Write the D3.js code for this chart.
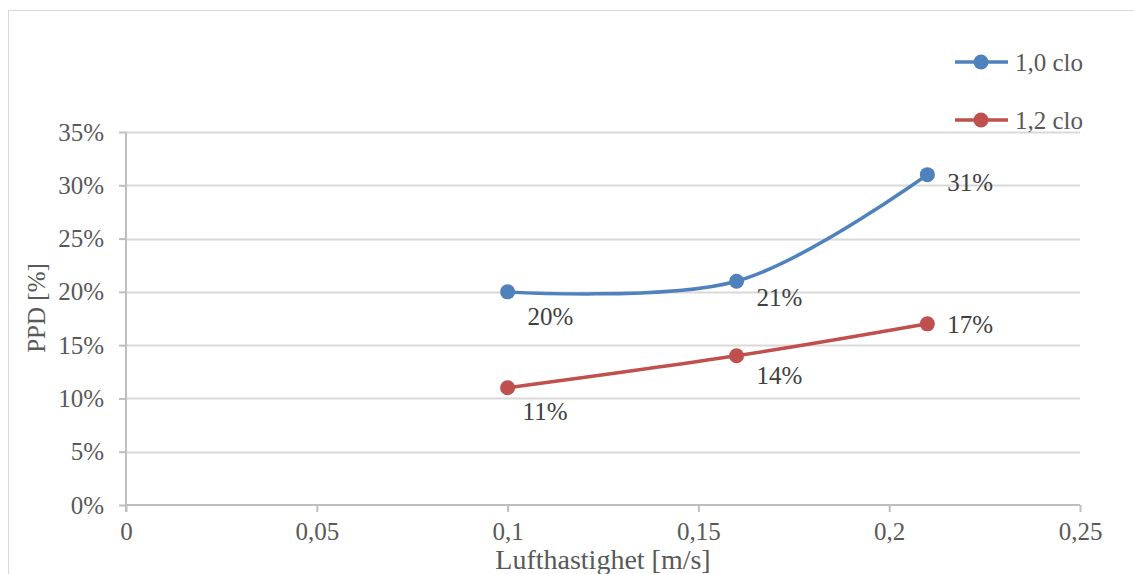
<!DOCTYPE html>
<html>
<head>
<meta charset="utf-8">
<script src="https://cdn.jsdelivr.net/npm/d3@7"></script>
<style>
  html, body { margin: 0; padding: 0; background: #fff; }
  svg { display: block; }
  text { font-family: "Liberation Serif", "DejaVu Serif", serif; }
</style>
</head>
<body>
<svg id="chart" width="1134" height="574"></svg>
<script>
// Air velocity [m/s] and PPD values for two clothing levels
const airSpeed = [0.10, 0.16, 0.21];
const ppdClo10 = [0.20, 0.21, 0.31];
const ppdClo12 = [0.11, 0.14, 0.17];
const seriesNames = ["1,0 clo", "1,2 clo"];
const xTickValues = [0, 0.05, 0.10, 0.15, 0.20, 0.25];
const yTickValues = [0, 0.05, 0.10, 0.15, 0.20, 0.25, 0.30, 0.35];

const colors = ["#4F81BD", "#C0504D"];
const fontSize = 25;

const svg = d3.select("#chart");

// outer chart frame (runs off the right and bottom edges)
svg.append("rect")
  .attr("x", 8.5).attr("y", 10.5)
  .attr("width", 1200).attr("height", 700)
  .attr("fill", "#fff").attr("stroke", "#D9D9D9").attr("stroke-width", 1);

const plot = { left: 126, right: 1080, top: 132, bottom: 505 };

const x = d3.scaleLinear().domain([0, 0.25]).range([plot.left, plot.right]);
const y = d3.scaleLinear().domain([0, 0.35]).range([plot.bottom, plot.top]);

const comma = v => String(+v.toFixed(2)).replace(".", ",");
const pct = v => Math.round(v * 100) + "%";

// horizontal gridlines
svg.append("g").selectAll("line")
  .data(yTickValues.filter(v => v > 0))
  .join("line")
  .attr("x1", plot.left).attr("x2", plot.right)
  .attr("y1", d => Math.round(y(d)) + 0.5).attr("y2", d => Math.round(y(d)) + 0.5)
  .attr("stroke", "#D9D9D9").attr("stroke-width", 2);

// y axis
const yAxis = svg.append("g")
  .attr("transform", `translate(${plot.left},0)`)
  .call(d3.axisLeft(y).tickValues(yTickValues).tickSize(7).tickPadding(15).tickFormat(pct));

// x axis
const xAxis = svg.append("g")
  .attr("transform", `translate(0,${plot.bottom})`)
  .call(d3.axisBottom(x).tickValues(xTickValues).tickSize(7).tickPadding(10).tickFormat(comma));

[yAxis, xAxis].forEach(g => {
  g.select(".domain").attr("stroke", "#BFBFBF").attr("stroke-width", 2);
  g.selectAll(".tick line").attr("stroke", "#BFBFBF").attr("stroke-width", 2);
  g.selectAll(".tick text")
    .attr("fill", "#595959")
    .style("font-family", '"Liberation Serif", "DejaVu Serif", serif')
    .style("font-size", fontSize + "px");
});
// plain axis lines without d3's outer tick caps
yAxis.select(".domain").attr("d", `M0,${plot.top}V${plot.bottom + 7}`);
xAxis.select(".domain").attr("d", `M${plot.left},0H${plot.right}`);

// axis titles
svg.append("text")
  .attr("x", 603).attr("y", 569)
  .attr("text-anchor", "middle")
  .attr("fill", "#595959").style("font-size", "28px")
  .text("Lufthastighet [m/s]");

svg.append("text")
  .attr("transform", `translate(45,308) rotate(-90)`)
  .attr("text-anchor", "middle")
  .attr("fill", "#595959").style("font-size", fontSize + "px")
  .text("PPD [%]");

// series lines (Excel-style smoothing)
const series = [ppdClo10, ppdClo12];
const line = d3.line()
  .x((d, i) => x(airSpeed[i]))
  .y(d => y(d))
  .curve(d3.curveCardinal.tension(0));

series.forEach((vals, s) => {
  svg.append("path")
    .datum(vals)
    .attr("d", line)
    .attr("fill", "none")
    .attr("stroke", colors[s])
    .attr("stroke-width", 3.5)
    .attr("stroke-linecap", "round");
  svg.append("g").selectAll("circle")
    .data(vals)
    .join("circle")
    .attr("cx", (d, i) => x(airSpeed[i]))
    .attr("cy", d => y(d))
    .attr("r", 7.5)
    .attr("fill", colors[s]);
});

// data label offsets relative to each point (series x point)
const labelOffsets = [
  [[20, 33], [20, 25], [20, 16]],
  [[15, 32], [20, 28], [20, 9]]
];
series.forEach((vals, s) => {
  svg.append("g").selectAll("text")
    .data(vals)
    .join("text")
    .attr("x", (d, i) => x(airSpeed[i]) + labelOffsets[s][i][0])
    .attr("y", (d, i) => y(d) + labelOffsets[s][i][1])
    .attr("fill", "#404040")
    .style("font-size", fontSize + "px")
    .text(d => pct(d));
});

// legend
const legend = svg.append("g");
seriesNames.forEach((name, s) => {
  const ly = 62 + s * 58;
  legend.append("line")
    .attr("x1", 955).attr("x2", 1008).attr("y1", ly).attr("y2", ly)
    .attr("stroke", colors[s]).attr("stroke-width", 3.5);
  legend.append("circle")
    .attr("cx", 981).attr("cy", ly).attr("r", 7.5).attr("fill", colors[s]);
  legend.append("text")
    .attr("x", 1015).attr("y", ly + 9)
    .attr("fill", "#595959").style("font-size", fontSize + "px")
    .text(name);
});
</script>
</body>
</html>
